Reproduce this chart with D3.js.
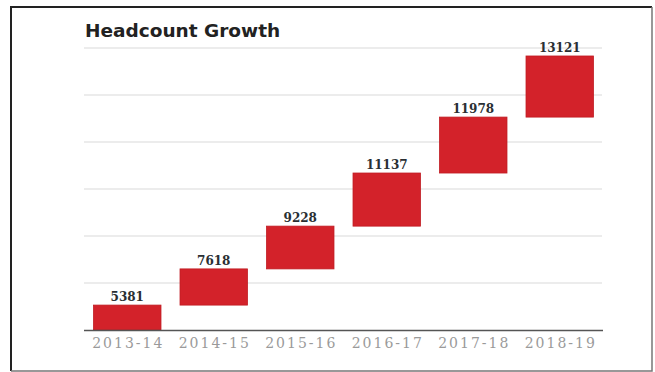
<!DOCTYPE html>
<html>
<head>
<meta charset="utf-8">
<script src="https://cdn.jsdelivr.net/npm/d3@7"></script>
<style>
  html, body { margin: 0; padding: 0; background: #fff; }
  svg { display: block; }
</style>
</head>
<body>
<div id="chart"></div>
<script>
// fiscal years on the x axis
const years = ['2013-14', '2014-15', '2015-16', '2016-17', '2017-18', '2018-19'];
// headcount printed above each bar
const headcount = [5381, 7618, 9228, 11137, 11978, 13121];
// top of each floating bar, in gridline steps;
// every bar starts where the previous one ended
const barLevel = [0.53, 1.30, 2.21, 3.34, 4.53, 5.83];
const gridSteps = [0, 1, 2, 3, 4, 5, 6];

const width = 655, height = 372;
const plot = { left: 84, right: 603, top: 48, bottom: 330 };

const svg = d3.select('#chart').append('svg')
  .attr('width', width)
  .attr('height', height);

svg.append('rect')
  .attr('width', width).attr('height', height)
  .attr('fill', '#fff');

// frame round the picture
svg.append('path')
  .attr('d', 'M11,371 V7 H652')
  .attr('fill', 'none').attr('stroke', '#222').attr('stroke-width', 2);
svg.append('path')
  .attr('d', 'M652,7 V371 H11')
  .attr('fill', 'none').attr('stroke', '#777').attr('stroke-width', 1.5);

const x = d3.scaleBand()
  .domain(years)
  .range([plot.left, plot.right])
  .paddingInner(0.22)
  .paddingOuter(0.11);

const y = d3.scaleLinear()
  .domain([0, 6])
  .range([plot.bottom, plot.top]);

// light gridlines
svg.append('g')
  .selectAll('line')
  .data(gridSteps.slice(1))
  .enter().append('line')
    .attr('x1', plot.left)
    .attr('x2', plot.right - 1)
    .attr('y1', d => y(d))
    .attr('y2', d => y(d))
    .attr('stroke', '#e6e6e6')
    .attr('stroke-width', 1.5);

svg.append('text')
  .attr('x', 85)
  .attr('y', 37)
  .attr('font-family', 'DejaVu Sans, sans-serif')
  .attr('font-weight', 'bold')
  .attr('font-size', 18.5)
  .attr('fill', '#222')
  .text('Headcount Growth');

const data = years.map((yr, i) => ({
  year: yr,
  value: headcount[i],
  from: i === 0 ? 0 : barLevel[i - 1],
  to: barLevel[i]
}));

svg.append('g')
  .selectAll('rect')
  .data(data)
  .enter().append('rect')
    .attr('x', d => x(d.year))
    .attr('y', d => y(d.to))
    .attr('width', x.bandwidth())
    .attr('height', d => y(d.from) - y(d.to))
    .attr('fill', '#d3222a')
    .attr('stroke', '#c01c22')
    .attr('stroke-width', 0.8);

svg.append('g')
  .selectAll('text')
  .data(data)
  .enter().append('text')
    .attr('x', d => x(d.year) + x.bandwidth() / 2)
    .attr('y', d => y(d.to) - 4)
    .attr('text-anchor', 'middle')
    .attr('font-family', 'DejaVu Serif, serif')
    .attr('font-weight', 'bold')
    .attr('font-size', 12)
    .attr('fill', '#2a2f33')
    .text(d => d.value);

// x axis: plain line and spaced-out labels
const xAxis = svg.append('g')
  .attr('transform', `translate(0,${plot.bottom})`)
  .call(d3.axisBottom(x).tickSize(0).tickPadding(0));
xAxis.select('.domain')
  .attr('d', `M${plot.left},0.5H${plot.right}`)
  .attr('stroke', '#555')
  .attr('stroke-width', 1.5);
xAxis.selectAll('text')
  .attr('dy', null)
  .attr('y', 18)
  .attr('dx', 1)
  .attr('font-family', 'DejaVu Serif, serif')
  .attr('font-size', 14)
  .attr('letter-spacing', 2)
  .attr('fill', '#9a9a9a');
</script>
</body>
</html>
